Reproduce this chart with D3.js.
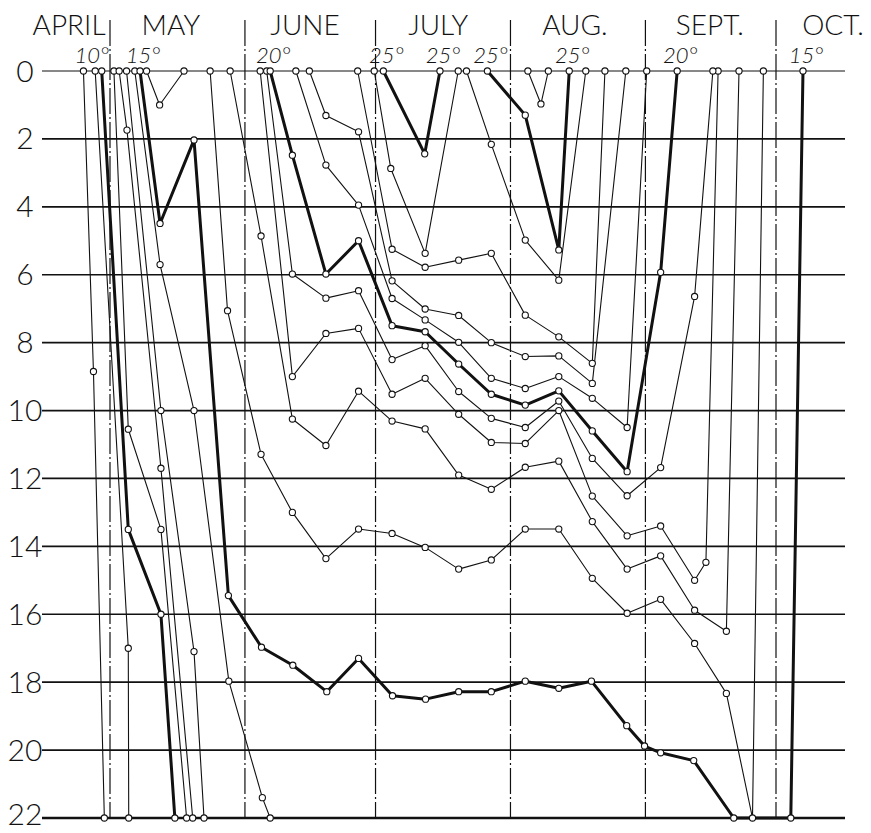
<!DOCTYPE html>
<html><head><meta charset="utf-8">
<script src="https://cdn.jsdelivr.net/npm/d3@7"></script>
<style>html,body{margin:0;padding:0;background:#fff;} svg{display:block;}</style>
</head><body><svg id="chart" width="871" height="833"></svg>
<script>
// ---- axis data (days counted from April 1; depth in metres) ----
const depthTicks = [0,2,4,6,8,10,12,14,16,18,20,22];
const monthNames = ["APRIL","MAY","JUNE","JULY","AUG.","SEPT.","OCT."];
const monthStartDays = [30,61,91,122,153,183];          // May 1 ... Oct 1
const monthLabelDays = [20.6,44.0,74.8,105.4,136.8,167.8,196.1];

// ---- isotherms: [day, depth] ----
const iso08 = [[23.9,0],[26.2,8.85],[28.7,22]];
const iso09 = [[26.6,0],[34.2,17.0],[34.3,22]];
const iso10 = [[28.1,0],[34.2,13.5],[41.7,16.0],[44.9,22]];
const iso11 = [[30.9,0],[34.2,10.55],[41.7,13.5],[47.6,22]];
const iso12 = [[32.1,0],[33.9,1.74],[41.7,11.7],[49.0,22]];
const iso13 = [[33.8,0],[41.7,10.0],[49.3,17.1],[51.6,22]];
const iso14 = [[35.7,0],[41.5,5.7],[49.3,10.0],[57.3,17.97],[65.0,21.4],[66.8,22]];
const iso15 = [[36.9,0],[41.5,4.49],[49.3,2.03],[57.2,15.45],[64.8,16.97],[72.0,17.5],[79.8,18.28],[87.1,17.3],[94.9,18.4],[102.5,18.5],[110.1,18.28],[117.6,18.28],[125.4,17.97],[133.1,18.18],[140.6,17.97],[148.7,19.28],[152.8,19.88],[156.5,20.08],[164.1,20.31],[173.3,22],[186.4,22],[189.2,0]];
const iso16a = [[38.4,0],[41.4,1.0],[47.0,0]];
const iso16 = [[53.0,0],[57.0,7.06],[64.7,11.29],[71.9,13.0],[79.6,14.36],[87.1,13.49],[94.8,13.62],[102.4,14.03],[110.1,14.67],[117.6,14.4],[125.4,13.49],[133.1,13.49],[140.8,14.94],[148.8,15.97],[156.5,15.56],[164.3,16.86],[171.6,18.33],[177.6,22],[180.1,0]];
const iso17 = [[57.6,0],[64.7,4.86],[71.9,10.25],[79.6,11.03],[87.1,9.43],[94.8,10.31],[102.4,10.54],[110.1,11.9],[117.6,12.32],[125.4,11.67],[133.1,11.49],[140.8,13.27],[148.8,14.67],[156.5,14.28],[164.3,15.88],[171.6,16.5],[174.5,0]];
const iso18 = [[64.5,0],[71.9,9.0],[79.6,7.73],[87.1,7.58],[94.8,9.52],[102.4,9.05],[110.1,10.11],[117.6,10.94],[125.4,10.97],[133.1,10.0],[140.8,12.52],[148.8,13.69],[156.5,13.4],[164.3,15.0],[166.9,14.47],[169.7,0]];
const iso19 = [[66.0,0],[71.9,5.98],[79.6,6.69],[87.1,6.47],[94.8,8.5],[102.4,8.09],[110.1,9.44],[117.6,10.23],[125.4,10.5],[133.1,9.72],[140.8,11.41],[148.8,12.51],[156.5,11.68],[164.3,6.64],[168.5,0]];
const iso20 = [[66.8,0],[71.9,2.48],[79.6,5.98],[87.1,5.0],[94.8,7.5],[102.4,7.68],[110.1,8.63],[117.6,9.52],[125.4,9.84],[133.1,9.42],[140.8,10.6],[148.8,11.8],[156.5,5.93],[160.3,0]];
const iso21 = [[72.7,0],[79.6,2.77],[87.1,3.95],[94.8,6.7],[102.4,7.33],[110.1,7.99],[117.6,9.05],[125.4,9.35],[133.1,9.0],[140.8,9.64],[148.8,10.5],[153.3,0]];
const iso22 = [[75.8,0],[79.6,1.31],[87.1,1.79],[94.8,6.18],[102.4,7.01],[110.1,7.2],[117.6,8.0],[125.4,8.41],[133.1,8.39],[140.8,9.2],[148.5,0]];
const iso23 = [[86.9,0],[94.8,5.25],[102.4,5.78],[110.1,5.57],[117.6,5.37],[125.4,7.19],[133.1,7.83],[140.8,8.61],[143.7,0]];
const iso24a = [[90.7,0],[94.5,2.87],[102.4,5.37],[110.0,0]];
const iso24b = [[111.9,0],[117.6,2.16],[125.4,4.98],[133.1,6.16],[139.3,0]];
const iso25a = [[92.8,0],[102.3,2.44],[105.8,0]];
const iso25b = [[116.7,0],[125.4,1.3],[133.1,5.27],[135.5,0]];
const iso26 = [[126.0,0],[129.0,0.97],[130.7,0]];

const isotherms = [
  {temp:8, pts:iso08},{temp:9, pts:iso09},{temp:10, pts:iso10},{temp:11, pts:iso11},
  {temp:12, pts:iso12},{temp:13, pts:iso13},{temp:14, pts:iso14},{temp:15, pts:iso15},
  {temp:16, pts:iso16a},{temp:16, pts:iso16},{temp:17, pts:iso17},{temp:18, pts:iso18},
  {temp:19, pts:iso19},{temp:20, pts:iso20},{temp:21, pts:iso21},{temp:22, pts:iso22},
  {temp:23, pts:iso23},{temp:24, pts:iso24a},{temp:24, pts:iso24b},{temp:25, pts:iso25a},
  {temp:25, pts:iso25b},{temp:26, pts:iso26}
];

// ---- drawing ----
const svg = d3.select("#chart");
const x = d3.scaleLinear().domain([30,183]).range([110,776]);
const y = d3.scaleLinear().domain([0,22]).range([71,818]);
const ink = "#111";
const heavy = t => t % 5 === 0;
const font = "Lato, 'Open Sans', sans-serif";

// horizontal depth lines
svg.append("g").selectAll("line").data(depthTicks).join("line")
  .attr("x1",42).attr("x2",845)
  .attr("y1",d=>y(d)).attr("y2",d=>y(d))
  .attr("stroke",ink)
  .attr("stroke-width",d=> d===0 ? 1 : (d===22 ? 2.4 : 1.7));

// depth labels
svg.append("g").selectAll("text").data(depthTicks).join("text")
  .attr("x",25).attr("y",d=>Math.min(y(d)+10.5, 825))
  .attr("text-anchor","middle")
  .attr("font-family",font).attr("font-weight",300)
  .attr("font-size",30).attr("fill",ink)
  .text(d=>d);

// month dividers
svg.append("g").selectAll("line").data(monthStartDays).join("line")
  .attr("x1",d=>x(d)).attr("x2",d=>x(d))
  .attr("y1",20).attr("y2",818)
  .attr("stroke",ink).attr("stroke-width",1.2)
  .attr("stroke-dasharray","26,3,2,3");

// month labels
svg.append("g").selectAll("text").data(monthNames).join("text")
  .attr("x",(d,i)=>x(monthLabelDays[i])).attr("y",34.5)
  .attr("text-anchor","middle")
  .attr("font-family",font).attr("font-weight",300)
  .attr("font-size",28).attr("fill",ink)
  .text(d=>d);

// isotherm lines
const line = d3.line().x(d=>x(d[0])).y(d=>y(d[1]));
svg.append("g").selectAll("path").data(isotherms).join("path")
  .attr("d",d=>line(d.pts))
  .attr("fill","none").attr("stroke",ink)
  .attr("stroke-width",d=>heavy(d.temp)?3:1.1)
  .attr("stroke-linejoin","round");

// observation circles
const allPts = isotherms.flatMap(d=>d.pts);
svg.append("g").selectAll("circle").data(allPts).join("circle")
  .attr("cx",d=>x(d[0])).attr("cy",d=>y(d[1])).attr("r",3.1)
  .attr("fill","#fff").attr("stroke",ink).attr("stroke-width",1.1);

// degree labels on heavy isotherms where they meet the surface
const degLabels = isotherms.filter(d=>heavy(d.temp))
  .flatMap(d=>d.pts.filter(p=>p[1]===0).map(p=>({temp:d.temp, day:p[0]})));
svg.append("g").selectAll("text").data(degLabels).join("text")
  .attr("x",d=>x(d.day) + (d.temp===10 ? -10 : 3)).attr("y",63)
  .attr("text-anchor","middle")
  .attr("font-family",font).attr("font-weight",300)
  .attr("font-style","italic").attr("font-size",22).attr("fill",ink)
  .text(d=>d.temp+"°");
</script>
</body></html>
